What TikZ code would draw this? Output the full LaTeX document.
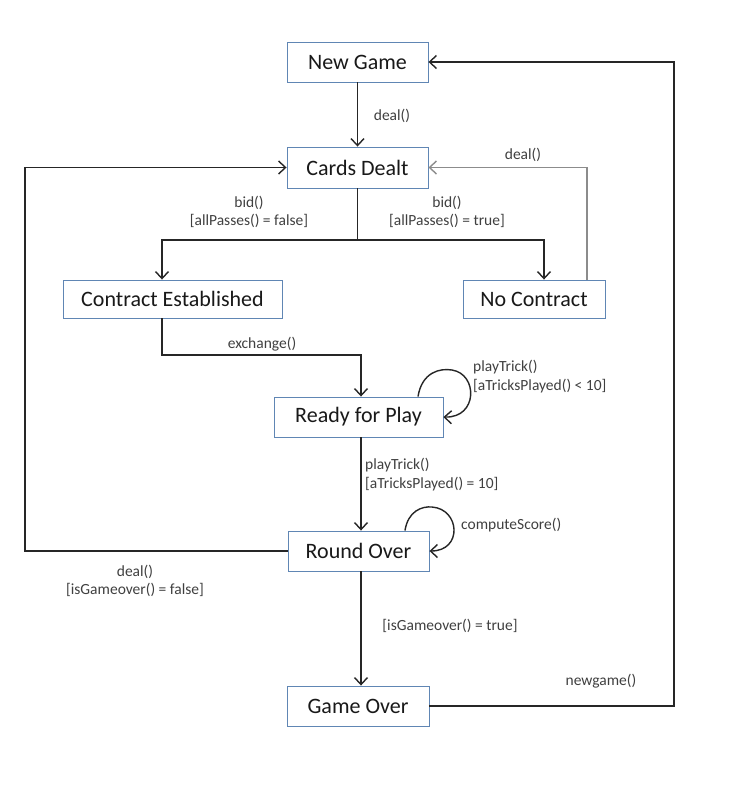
\documentclass[tikz,border=0pt]{standalone}
\usepackage{fontspec}
\setmainfont{Carlito}
\usetikzlibrary{arrows.meta}
\definecolor{boxblue}{RGB}{96,134,180}
\begin{document}
\begin{tikzpicture}[x=1pt,y=-1pt,
  state/.style={draw=boxblue,line width=0.9pt,minimum height=40pt,inner sep=0pt,
    font=\fontsize{22}{26}\selectfont,text=black!90},
  lbl/.style={font=\fontsize{15.5}{18.5}\selectfont,text=black!75,inner sep=0pt,align=center},
  conn/.style={line width=1.4pt,draw=black!85},
  tip/.style={-{Straight Barb[length=7pt,width=13pt]}}]
\useasboundingbox[fill=white] (0,0) rectangle (748,785);

% states
\node[state,minimum width=141pt] (ng) at (357.5,62) {New Game};
\node[state,minimum width=141pt,minimum height=41pt] (cd) at (357.5,167.5) {Cards Dealt};
\node[state,minimum width=219pt,minimum height=38pt] (ce) at (172.5,299) {Contract Established};
\node[state,minimum width=142pt,minimum height=38pt] (nc) at (534,299) {No Contract};
\node[state,minimum width=169pt] (rp) at (358.5,417) {Ready for Play};
\node[state,minimum width=141pt] (ro) at (358.5,551) {Round Over};
\node[state,minimum width=142pt] (go) at (358,706) {Game Over};

% helper coordinates
\coordinate (br) at (357.5,240);
\coordinate (ex) at (361,355);
\coordinate (lc) at (25,360);
\coordinate (rc) at (674,400);

% connectors
\draw[conn,tip] (ng.south) -- (cd.north);
\draw[conn] (cd.south) -- (br);
\draw[conn,tip] (br) -| ([xshift=-10.5pt]ce.north);
\draw[conn,tip] (br) -| ([xshift=10pt]nc.north);
\draw[line width=1.4pt,draw=black!45,tip] ([xshift=53pt]nc.north) |- (cd.east);
\draw[conn,tip] ([xshift=-10.5pt]ce.south) |- (ex) -- (ex |- rp.north);
\draw[conn,tip] (ex |- rp.south) -- (ex |- ro.north);
\draw[conn,tip] (ex |- ro.south) -- (ex |- go.north);
\draw[conn,tip] (ro.west) -| (lc) |- (cd.west);
\draw[conn,tip] (go.east) -| (rc) |- (ng.east);

% self loops
\draw[conn,tip] ([xshift=59.5pt]rp.north) .. controls (422,372) and (440,368) .. (452,370)
  .. controls (478,374) and (478,418) .. (rp.east);
\draw[conn,tip] ([xshift=46.5pt]ro.north) .. controls (408,511) and (422,506) .. (432,507)
  .. controls (460,509) and (463,551) .. (ro.east);

% labels
\node[lbl] (l1) at (392,116) {deal()};
\node[lbl] (l2) at (249,212) {bid()\\{[}allPasses() = false]};
\node[lbl] (l3) at (447,212) {bid()\\{[}allPasses() = true]};
\node[lbl] (l4) at (523,155) {deal()};
\node[lbl] (l5) at (262,344) {exchange()};
\node[lbl,anchor=west,align=left] (l6) at (473,376.5) {playTrick()\\{[}aTricksPlayed() < 10]};
\node[lbl,anchor=west,align=left] (l7) at (365,474.5) {playTrick()\\{[}aTricksPlayed() = 10]};
\node[lbl,anchor=west] (l8) at (461,525) {computeScore()};
\node[lbl] (l9) at (135,581) {deal()\\{[}isGameover() = false]};
\node[lbl] (l10) at (450,626) {[isGameover() = true]};
\node[lbl] (l11) at (601,681) {newgame()};
\end{tikzpicture}
\end{document}
